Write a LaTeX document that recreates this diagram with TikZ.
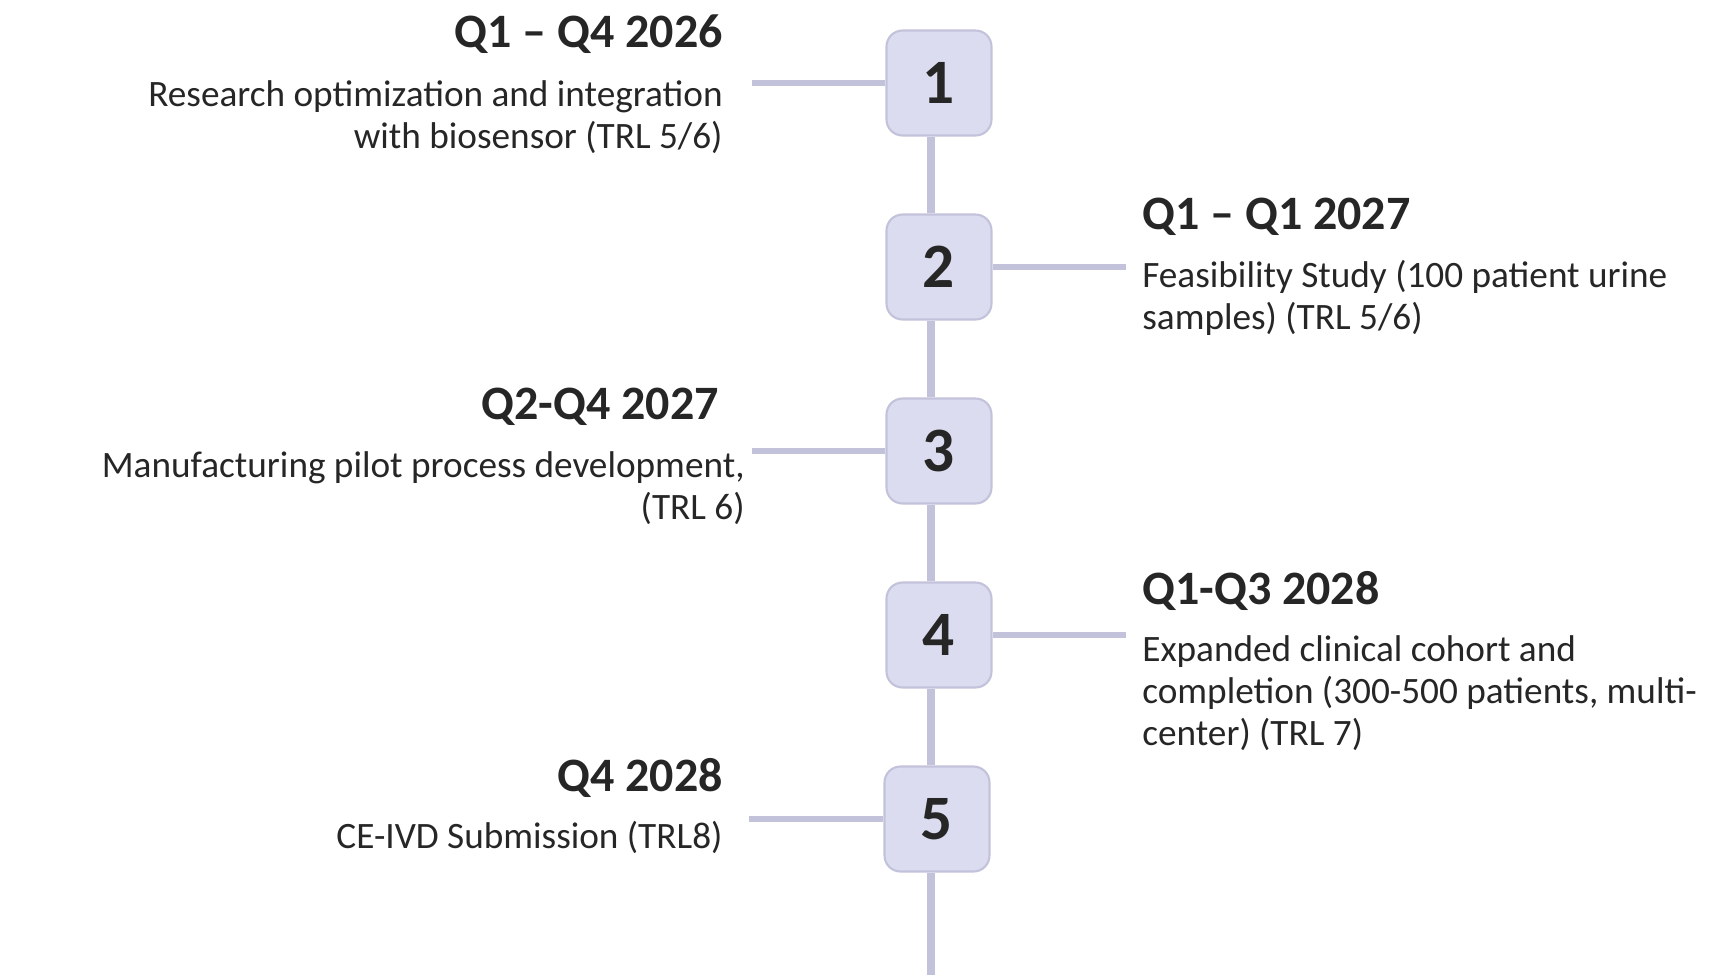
\documentclass[tikz,border=0pt]{standalone}
\usepackage{fontspec}
\setmainfont{Carlito}
\usepackage{tikz}
\usepackage{xcolor}
\definecolor{stepfill}{HTML}{DCDCF0}
\definecolor{stepline}{HTML}{C2C2DA}
\definecolor{inktext}{HTML}{262626}
\tikzset{
    step-box/.style = {draw=stepline, fill=stepfill, line width=1.2pt, rectangle, rounded corners=0.32cm, minimum size=2.1cm, inner sep=0pt, text=inktext, font=\fontsize{36}{40}\selectfont\bfseries},
    step-title/.style = {inner sep=0pt, text=inktext, font=\fontsize{27.3}{32}\selectfont\bfseries},
    step-text/.style = {inner sep=0pt, text=inktext, font=\fontsize{21.2}{23.9}\selectfont},
    spine/.style = {draw=stepline, line width=5pt},
    branch/.style = {draw=stepline, line width=3.4pt},
}

\begin{document}
\begin{tikzpicture}[x=0.02cm, y=-0.02cm]
\useasboundingbox (0,0) rectangle (1727,975);

% milestones
\node[step-box] (box1) at (939,83) {1};
\node[step-box] (box2) at (939,267) {2};
\node[step-box] (box3) at (939,451) {3};
\node[step-box] (box4) at (939,635) {4};
\node[step-box] (box5) at (937,819) {5};

% time line
\coordinate (spine-end) at (931,975);
\draw[spine] (box1.south -| spine-end) -- (box2.north -| spine-end);
\draw[spine] (box2.south -| spine-end) -- (box3.north -| spine-end);
\draw[spine] (box3.south -| spine-end) -- (box4.north -| spine-end);
\draw[spine] (box4.south -| spine-end) -- (box5.north -| spine-end);
\draw[spine] (box5.south -| spine-end) -- (spine-end);

% side branches
\coordinate (end1) at (752,83);
\coordinate (end2) at (1126,267);
\coordinate (end3) at (752,451);
\coordinate (end4) at (1126,635);
\coordinate (end5) at (749,819);
\draw[branch] (box1.west) -- (end1);
\draw[branch] (box2.east) -- (end2);
\draw[branch] (box3.west) -- (end3);
\draw[branch] (box4.east) -- (end4);
\draw[branch] (box5.west) -- (end5);

% labels (base = last line)
\node[step-title, anchor=base east] (title1) at (723,47) {Q1 – Q4 2026};
\node[step-text, anchor=base east, align=right] (text1) at (723,148) {Research optimization and integration\\with biosensor (TRL 5/6)};

\node[step-title, anchor=base west] (title2) at (1142,229) {Q1 – Q1 2027};
\node[step-text, anchor=base west, align=left] (text2) at (1142,329) {Feasibility Study (100 patient urine\\samples) (TRL 5/6)};

\node[step-title, anchor=base east] (title3) at (719,419) {Q2-Q4 2027};
\node[step-text, anchor=base east, align=right] (text3) at (745,519) {Manufacturing pilot process development,\\(TRL 6)};

\node[step-title, anchor=base west] (title4) at (1142,604) {Q1-Q3 2028};
\node[step-text, anchor=base west, align=left] (text4) at (1142,745) {Expanded clinical cohort and\\completion (300-500 patients, multi-\\center) (TRL 7)};

\node[step-title, anchor=base east] (title5) at (723,791) {Q4 2028};
\node[step-text, anchor=base east, align=right] (text5) at (723,848) {CE-IVD Submission (TRL8)};
\end{tikzpicture}
\end{document}
